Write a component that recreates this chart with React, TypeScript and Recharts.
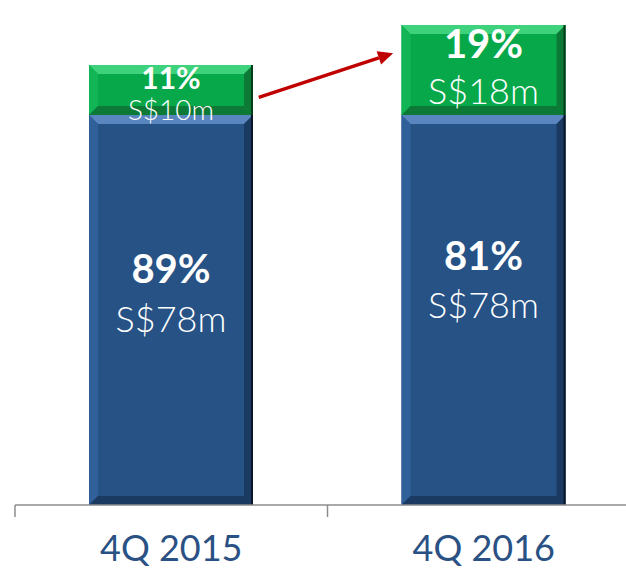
import React from "react";
import { BarChart, Bar, XAxis, YAxis, LabelList, ReferenceLine } from "recharts";

const quarters = ["4Q 2015", "4Q 2016"];
const coreRevenue = [78, 78];
const otherRevenue = [10, 18];
// growth arrow: line through the two bar centres (S$m), drawn only over the gap
const arrowLevels = [75.8, 96.3];
const arrowSpan = [0.28, 0.71];

const data = quarters.map((q, i) => ({
  quarter: q,
  core: coreRevenue[i],
  other: otherRevenue[i],
  total: coreRevenue[i] + otherRevenue[i],
}));

const FONT = "Lato, 'Open Sans', sans-serif";
const AXIS_BLUE = "#2a5183";

const bevelShape = (base: string, light: string, side: string, dark: string, edge: string) => (props: any) => {
  const { x, y, width: w, height: h } = props;
  if (!w || !h) return null;
  const b = 9;
  return (
    <g>
      <rect x={x} y={y} width={w} height={h} fill={base} />
      <polygon points={`${x},${y} ${x + w},${y} ${x + w - b},${y + b} ${x + b},${y + b}`} fill={light} />
      <polygon points={`${x},${y} ${x + b},${y + b} ${x + b},${y + h - b} ${x},${y + h}`} fill={side} />
      <polygon points={`${x},${y + h} ${x + w},${y + h} ${x + w - b},${y + h - b} ${x + b},${y + h - b}`} fill={dark} />
      <polygon points={`${x + w},${y} ${x + w},${y + h} ${x + w - b},${y + h - b} ${x + w - b},${y + b}`} fill={dark} />
      <line x1={x + w - 1} y1={y} x2={x + w - 1} y2={y + h} stroke={edge} strokeWidth={2} />
    </g>
  );
};

const coreShape = bevelShape("#265285", "#5a86bf", "#30609a", "#1a3a62", "#0a1628");
const otherShape = bevelShape("#07a84a", "#3fd27c", "#12b555", "#0c7a36", "#053d1b");

const pctOf = (v: number, i: number) => `${Math.round((v / data[i].total) * 100)}%`;

const corePctDy = [168, 155];
const coreValDy = [217, 203];

const coreLabel = (props: any) => {
  const { x, y, width, index, value } = props;
  const cx = x + width / 2;
  return (
    <g fontFamily={FONT} fill="#ffffff" textAnchor="middle">
      <text x={cx} y={y + corePctDy[index]} fontSize={40} fontWeight={700}>{pctOf(value, index)}</text>
      <text x={cx} y={y + coreValDy[index]} fontSize={36} fontWeight={300}>{`S$${value}m`}</text>
    </g>
  );
};

const otherPctSize = [30, 40];
const otherValSize = [28, 36];
const otherPctDy = [-1, -12];
const otherValDy = [30, 34];

const otherLabel = (props: any) => {
  const { x, y, width, height, index, value } = props;
  const cx = x + width / 2;
  const cy = y + height / 2;
  return (
    <g fontFamily={FONT} fill="#ffffff" textAnchor="middle">
      <text x={cx} y={cy + otherPctDy[index]} fontSize={otherPctSize[index]} fontWeight={700}>{pctOf(value, index)}</text>
      <text x={cx} y={cy + otherValDy[index]} fontSize={otherValSize[index]} fontWeight={300}>{`S$${value}m`}</text>
    </g>
  );
};

const QuarterTick = (props: any) => {
  const { x, y, payload, index } = props;
  const half = payload && payload.offset ? payload.offset : 0;
  return (
    <g>
      {half > 0 && <line x1={x - half} y1={y - 12} x2={x - half} y2={y} stroke="#8c8c8c" strokeWidth={1.5} />}
      {half > 0 && index === quarters.length - 1 && (
        <line x1={x + half} y1={y - 12} x2={x + half} y2={y} stroke="#8c8c8c" strokeWidth={1.5} />
      )}
      <text x={x} y={y + 44} textAnchor="middle" fontFamily={FONT} fontSize={36} fill={AXIS_BLUE}>
        {payload.value}
      </text>
    </g>
  );
};

const Arrow = (props: any) => {
  const { x1, y1, x2, y2 } = props;
  if ([x1, y1, x2, y2].some((v) => typeof v !== "number" || isNaN(v))) return null;
  const sx = x1 + (x2 - x1) * arrowSpan[0];
  const sy = y1 + (y2 - y1) * arrowSpan[0];
  const ex = x1 + (x2 - x1) * arrowSpan[1];
  const ey = y1 + (y2 - y1) * arrowSpan[1];
  const ang = Math.atan2(ey - sy, ex - sx);
  const len = 15;
  const wid = 7;
  const bx = ex - len * Math.cos(ang);
  const by = ey - len * Math.sin(ang);
  const px = -Math.sin(ang) * wid;
  const py = Math.cos(ang) * wid;
  return (
    <g>
      <line x1={sx} y1={sy} x2={bx} y2={by} stroke="#c00000" strokeWidth={3.5} />
      <polygon points={`${ex},${ey} ${bx + px},${by + py} ${bx - px},${by - py}`} fill="#c00000" />
    </g>
  );
};

export default function App() {
  return (
    <div style={{ position: "fixed", left: 0, top: 0, width: 626, height: 571, overflow: "hidden", background: "#fff" }}>
      <BarChart width={640} height={571} data={data} margin={{ top: 10, right: 0, left: 15, bottom: 0 }}>
        <XAxis
          dataKey="quarter"
          height={66}
          tickSize={12}
          tickMargin={0}
          tickLine={false}
          axisLine={{ stroke: "#8c8c8c", strokeWidth: 1.5 }}
          tick={<QuarterTick />}
          interval={0}
        />
        <YAxis hide domain={[0, 99]} />
        <Bar dataKey="core" stackId="rev" barSize={164} shape={coreShape} isAnimationActive={false}>
          <LabelList dataKey="core" content={coreLabel} />
        </Bar>
        <Bar dataKey="other" stackId="rev" barSize={164} shape={otherShape} isAnimationActive={false}>
          <LabelList dataKey="other" content={otherLabel} />
        </Bar>
        <ReferenceLine
          segment={[
            { x: quarters[0], y: arrowLevels[0] },
            { x: quarters[1], y: arrowLevels[1] },
          ]}
          ifOverflow="visible"
          shape={Arrow}
        />
      </BarChart>
    </div>
  );
}
